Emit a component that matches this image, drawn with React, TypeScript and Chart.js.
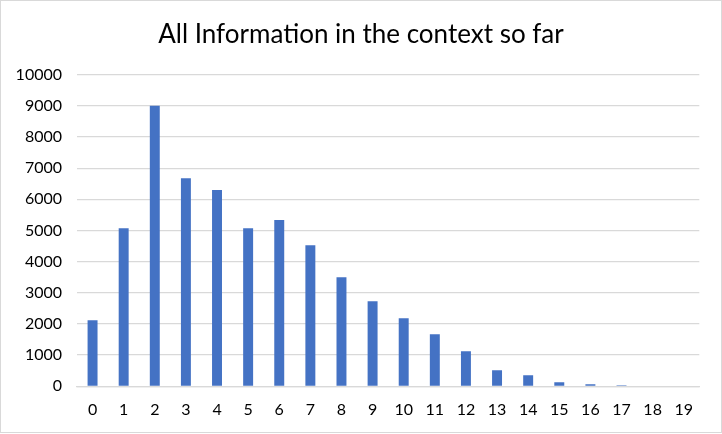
import React, { useEffect, useRef } from "react";
import { Chart, registerables } from "chart.js";

Chart.register(...registerables);

const TITLE = "All Information in the context so far";
const categories = ["0","1","2","3","4","5","6","7","8","9","10","11","12","13","14","15","16","17","18","19"];
const counts = [2120, 5075, 9000, 6680, 6300, 5075, 5335, 4530, 3500, 2730, 2185, 1670, 1125, 515, 355, 130, 65, 35, 0, 0];
const yMin = 0;
const yMax = 10000;
const yStep = 1000;

const centeredTitle = {
  id: "centeredTitle",
  afterDraw(chart: any) {
    const c = chart.ctx;
    c.save();
    c.fillStyle = "#000000";
    c.font = "normal 26px Lato";
    c.textAlign = "center";
    c.textBaseline = "alphabetic";
    c.fillText(TITLE, chart.width / 2, 41.5);
    c.restore();
  },
};

export default function App() {
  const ref = useRef<HTMLCanvasElement>(null);
  useEffect(() => {
    document.body.style.margin = "0";
    const ctx = ref.current!;
    const chart = new Chart(ctx, {
      type: "bar",
      data: {
        labels: categories,
        datasets: [
          {
            data: counts,
            backgroundColor: "#4472C4",
            borderWidth: 0,
            categoryPercentage: 1,
            barPercentage: 0.32,
          },
        ],
      },
      plugins: [centeredTitle],
      options: {
        responsive: false,
        animation: false,
        devicePixelRatio: 1,
        layout: { padding: { left: 0, right: 21.7, top: 73.7, bottom: 0 } },
        plugins: {
          legend: { display: false },
          tooltip: { enabled: false },
          title: { display: false },
        },
        scales: {
          x: {
            grid: { display: false, drawTicks: false },
            border: { display: true, color: "#d9d9d9", width: 1.3 },
            ticks: {
              color: "#000000",
              font: { family: "Lato", size: 16 },
              padding: 14,
              maxRotation: 0,
              autoSkip: false,
            },
            afterFit: (s: any) => {
              s.height = 45.7;
            },
          },
          y: {
            min: yMin,
            max: yMax,
            grid: { color: "#d9d9d9", lineWidth: 1.3, drawTicks: false },
            border: { display: false },
            ticks: {
              stepSize: yStep,
              color: "#000000",
              font: { family: "Lato", size: 16 },
              padding: 15,
              callback: (v: any) => String(v),
            },
            afterFit: (s: any) => {
              s.width = 76;
            },
          },
        },
      },
    });
    return () => chart.destroy();
  }, []);
  return (
    <div
      style={{
        position: "absolute",
        left: 0,
        top: 0,
        width: 722,
        height: 433,
        border: "1px solid #d9d9d9",
        boxSizing: "border-box",
        background: "#ffffff",
      }}
    >
      <canvas ref={ref} width={720} height={431} style={{ display: "block", width: 720, height: 431 }} />
    </div>
  );
}
